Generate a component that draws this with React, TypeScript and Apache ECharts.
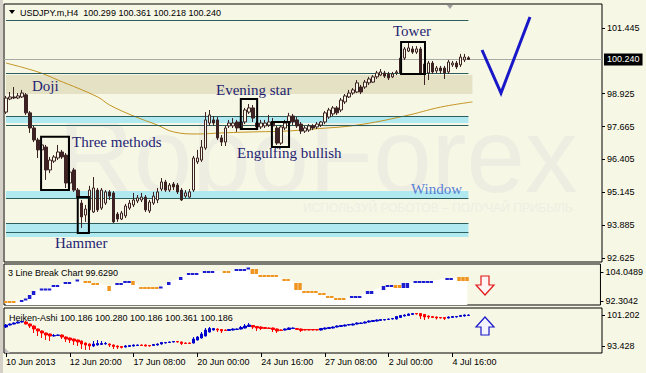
import React, { useEffect, useRef } from "react";
import * as echarts from "echarts";

// ---------- DATA ----------
// main H4 candles: [open, close, low, high]
const ohlc: number[][] = [
  [98.22, 98.76, 98.15, 98.84], [98.72, 98.8, 98.68, 98.99], [98.8, 98.76, 98.72, 99.18], [98.76, 98.84, 98.72, 98.95],
  [98.8, 98.95, 98.76, 99.07], [98.88, 98.19, 98.11, 98.95], [98.19, 97.61, 97.42, 98.26], [97.61, 97.15, 97.07, 97.69],
  [97.15, 96.77, 96.46, 97.23], [96.77, 96.96, 96.65, 97.11], [96.88, 96.0, 95.62, 96.96], [96.0, 96.38, 95.88, 96.5],
  [96.34, 96.5, 96.27, 96.57], [96.46, 96.69, 96.38, 96.96], [96.69, 96.5, 96.42, 96.77], [96.57, 95.5, 95.31, 96.65],
  [95.5, 95.92, 95.42, 96.0], [96.0, 95.23, 95.16, 96.08], [95.23, 94.93, 94.85, 95.31], [94.73, 94.2, 93.78, 94.85],
  [94.27, 94.5, 94.01, 94.66], [94.47, 95.23, 94.39, 95.39], [94.39, 95.31, 94.35, 95.73], [95.23, 94.47, 94.39, 95.31],
  [94.54, 95.23, 94.47, 95.31], [94.73, 95.16, 94.66, 95.23], [95.16, 95.0, 94.85, 95.23], [95.12, 94.01, 93.97, 95.19],
  [94.31, 94.12, 94.01, 94.39], [94.12, 94.35, 94.08, 94.43], [94.24, 94.62, 94.16, 94.7], [94.54, 94.73, 94.47, 94.85],
  [94.66, 94.85, 94.58, 95.12], [94.81, 94.93, 94.73, 95.04], [94.85, 94.96, 94.77, 95.12], [94.96, 94.47, 94.39, 95.04],
  [94.43, 94.77, 94.35, 94.85], [94.73, 95.0, 94.66, 95.16], [94.85, 95.16, 94.73, 95.31], [95.27, 95.54, 95.19, 95.69],
  [95.54, 95.23, 95.16, 95.62], [95.23, 95.42, 95.16, 95.5], [95.46, 95.35, 95.23, 95.54], [95.42, 95.16, 95.08, 95.5],
  [95.23, 94.85, 94.81, 95.31], [95.0, 95.12, 94.93, 95.23], [94.96, 95.16, 94.93, 95.27], [95.23, 96.46, 95.16, 96.54],
  [96.31, 96.46, 96.23, 96.77], [96.38, 96.88, 96.31, 97.15], [96.84, 97.92, 96.77, 98.22], [97.8, 98.11, 97.69, 98.3],
  [97.92, 97.8, 97.69, 98.07], [97.92, 97.23, 97.15, 98.03], [97.23, 97.07, 96.92, 97.34], [97.07, 97.61, 96.92, 97.69],
  [97.69, 97.8, 97.61, 97.92], [97.69, 97.8, 97.61, 97.99], [97.84, 97.61, 97.46, 97.92], [97.61, 97.84, 97.53, 97.99],
  [97.84, 98.3, 97.76, 98.38], [98.22, 98.38, 98.15, 98.53], [98.38, 97.99, 97.84, 98.49], [97.8, 97.65, 97.53, 97.88],
  [97.65, 97.8, 97.57, 97.92], [97.69, 97.8, 97.61, 97.92], [97.72, 97.84, 97.65, 98.11], [97.84, 97.69, 97.53, 97.99],
  [97.61, 97.03, 96.96, 97.69], [97.03, 97.65, 96.96, 97.72], [97.61, 97.8, 97.53, 97.92], [97.8, 98.07, 97.72, 98.19],
  [98.07, 97.84, 97.72, 98.15], [97.92, 97.69, 97.61, 98.03], [97.76, 97.49, 97.38, 97.84], [97.49, 97.61, 97.42, 97.69],
  [97.53, 97.69, 97.46, 97.76], [97.69, 97.61, 97.53, 97.76], [97.65, 97.76, 97.57, 97.84], [97.72, 97.84, 97.65, 97.88],
  [97.84, 98.19, 97.76, 98.26], [98.03, 98.3, 97.96, 98.38], [98.15, 98.38, 98.07, 98.45], [98.38, 98.19, 98.11, 98.45],
  [98.3, 98.68, 98.22, 98.76], [98.61, 98.84, 98.53, 98.91], [98.8, 98.95, 98.76, 99.07], [98.95, 99.07, 98.88, 99.14],
  [98.99, 99.34, 98.95, 99.45], [99.18, 98.99, 98.91, 99.26], [99.18, 99.37, 99.11, 99.45], [99.34, 99.49, 99.26, 99.57],
  [99.37, 99.57, 99.34, 99.64], [99.57, 99.72, 99.49, 99.8], [99.64, 99.76, 99.6, 99.87], [99.72, 99.6, 99.53, 99.8],
  [99.68, 99.53, 99.45, 99.76], [99.57, 99.68, 99.53, 99.76], [99.72, 99.76, 99.64, 99.83], [99.72, 100.29, 99.68, 100.37],
  [100.29, 100.64, 100.22, 100.72], [100.56, 100.68, 100.52, 100.87], [100.64, 100.52, 100.45, 100.75], [100.52, 100.64, 100.45, 100.75],
  [100.64, 99.72, 99.68, 100.72], [100.06, 99.72, 99.26, 100.14], [99.72, 100.1, 99.45, 100.18], [100.1, 99.76, 99.68, 100.18],
  [99.8, 99.91, 99.72, 99.99], [99.91, 99.8, 99.68, 99.99], [99.91, 99.72, 99.49, 99.99], [99.76, 100.14, 99.68, 100.22],
  [100.03, 100.1, 99.95, 100.18], [100.1, 99.95, 99.87, 100.18], [100.03, 100.33, 99.95, 100.45], [100.22, 100.33, 100.14, 100.45],
  [100.299, 100.24, 100.218, 100.361],
];

// moving average: [bar index, value]
const maPoints: number[][] = [
  [0, 100.1], [8, 99.76], [13, 99.45], [23, 98.8], [26, 98.49], [32, 98.07], [38, 97.72], [42, 97.46], [48, 97.38],
  [54, 97.42], [62, 97.46], [70, 97.49], [77, 97.57], [88, 97.72], [100, 98.07], [109, 98.41], [117, 98.61],
];

// Heiken-Ashi: [open, close, low, high]
const haBars: number[][] = [
  [98.2, 98.7, 97.95, 98.95], [98.7, 98.95, 98.58, 99.08], [98.95, 99.2, 98.83, 99.33], [99.2, 99.45, 99.08, 99.58],
  [99.45, 99.58, 99.33, 99.7], [99.45, 98.95, 98.83, 99.7], [98.95, 98.45, 97.95, 99.08], [98.45, 97.7, 96.7, 98.58],
  [97.7, 97.2, 95.95, 97.83], [97.2, 96.7, 95.45, 97.33], [96.7, 96.2, 94.95, 96.83], [96.45, 95.95, 94.7, 96.58],
  [95.95, 96.08, 95.83, 96.45], [96.08, 96.2, 95.95, 96.33], [96.2, 95.7, 95.2, 96.33], [95.7, 95.2, 94.45, 95.83],
  [95.45, 94.95, 94.2, 95.58], [95.2, 94.7, 93.7, 95.33], [94.95, 94.45, 93.45, 95.08], [94.7, 93.95, 92.7, 94.83],
  [94.2, 93.7, 92.45, 94.33], [93.95, 93.45, 92.45, 94.08], [93.45, 93.95, 93.2, 94.7], [93.7, 94.08, 93.58, 94.95],
  [93.83, 94.08, 93.7, 94.7], [93.95, 94.08, 93.83, 94.45], [93.95, 93.7, 93.2, 94.08], [93.7, 93.33, 92.7, 93.83],
  [93.45, 93.2, 92.7, 93.58], [93.33, 93.08, 92.83, 93.45], [93.2, 93.45, 93.08, 93.7], [93.33, 93.58, 93.2, 93.7],
  [93.45, 93.7, 93.33, 93.83], [93.58, 93.7, 93.45, 93.83], [93.7, 93.58, 93.45, 93.83], [93.7, 93.45, 93.33, 93.83],
  [93.58, 93.45, 93.33, 93.7], [93.58, 93.83, 93.45, 93.95], [93.7, 93.95, 93.58, 94.08], [93.95, 94.33, 93.83, 94.45],
  [94.2, 94.33, 94.08, 94.45], [94.33, 94.45, 94.2, 94.58], [94.45, 94.58, 94.33, 94.7], [94.58, 94.45, 94.33, 94.7],
  [94.45, 94.08, 93.7, 94.58], [94.2, 94.08, 93.95, 94.33], [94.2, 94.08, 93.95, 94.33], [94.2, 95.2, 94.08, 95.7],
  [94.95, 95.7, 94.83, 95.95], [95.45, 96.45, 95.33, 96.95], [95.95, 97.45, 95.83, 97.95], [96.95, 97.83, 96.83, 98.2],
  [97.45, 97.83, 97.33, 97.95], [97.7, 97.45, 96.95, 97.83], [97.58, 97.2, 96.7, 97.7], [97.45, 97.33, 97.2, 97.58],
  [97.33, 97.58, 97.2, 97.7], [97.45, 97.7, 97.33, 97.83], [97.58, 97.7, 97.45, 97.83], [97.7, 98.08, 97.58, 98.45],
  [97.95, 98.45, 97.83, 98.95], [98.33, 98.7, 98.2, 99.2], [98.58, 98.2, 97.7, 98.7], [98.33, 97.95, 97.2, 98.45],
  [98.2, 97.83, 97.45, 98.33], [98.08, 97.83, 97.7, 98.2], [97.95, 97.83, 97.7, 98.08], [97.95, 97.58, 96.95, 98.08],
  [97.7, 97.2, 96.7, 97.83], [97.45, 97.33, 97.2, 97.58], [97.45, 97.7, 97.33, 97.83], [97.58, 97.95, 97.45, 98.08],
  [97.83, 97.95, 97.7, 98.08], [97.83, 97.58, 97.45, 97.95], [97.7, 97.33, 96.95, 97.83], [97.58, 97.45, 97.33, 97.7],
  [97.58, 97.45, 97.33, 97.7], [97.58, 97.45, 97.33, 97.7], [97.58, 97.45, 97.33, 97.7], [97.45, 97.83, 97.33, 97.95],
  [97.7, 97.95, 97.58, 98.08], [97.83, 98.08, 97.7, 98.2], [97.95, 98.2, 97.83, 98.33], [98.2, 98.45, 98.08, 98.58],
  [98.33, 98.58, 98.2, 98.7], [98.45, 98.7, 98.33, 98.83], [98.7, 98.83, 98.58, 98.95], [98.7, 98.95, 98.58, 99.08],
  [98.95, 99.2, 98.83, 99.33], [99.08, 99.2, 98.95, 99.33], [99.2, 99.45, 99.08, 99.58], [99.45, 99.7, 99.33, 99.83],
  [99.58, 99.83, 99.45, 99.95], [99.7, 99.95, 99.58, 100.08], [99.83, 100.08, 99.7, 100.2], [99.95, 100.08, 99.83, 100.2],
  [100.08, 100.2, 99.95, 100.33], [100.2, 100.33, 100.08, 100.45], [100.2, 100.83, 100.08, 100.95], [100.58, 101.08, 100.45, 101.2],
  [100.95, 101.2, 100.83, 101.33], [101.08, 101.45, 100.95, 101.58], [101.33, 101.58, 101.2, 101.7], [101.58, 101.45, 101.33, 101.7],
  [101.58, 100.95, 100.2, 101.7], [101.33, 100.7, 99.95, 101.45], [100.95, 100.7, 100.2, 101.08], [100.83, 100.58, 100.45, 100.95],
  [100.7, 100.45, 100.08, 100.83], [100.58, 100.45, 100.33, 100.7], [100.58, 100.33, 99.95, 100.7], [100.45, 100.7, 100.33, 100.83],
  [100.58, 100.83, 100.45, 100.95], [100.7, 100.83, 100.58, 100.95], [100.83, 101.08, 100.7, 101.2], [100.95, 101.2, 100.83, 101.33],
  [101.08, 101.2, 100.95, 101.33],
];

// 3 Line Break bricks: [first bar, last bar, top, bottom, direction (1 up / -1 down)]
const lineBreakBricks: number[][] = [
  [0, 2, 92.3, 91.49, -1], [4, 4, 92.71, 91.9, 1], [5, 5, 93.32, 92.71, 1], [6, 6, 94.73, 93.11, 1],
  [7, 7, 96.35, 94.73, 1], [9, 11, 97.37, 96.56, 1], [12, 13, 98.78, 97.97, 1], [15, 16, 100.0, 99.19, 1],
  [18, 18, 101.01, 100.4, 1], [20, 21, 100.4, 99.8, -1], [22, 23, 99.59, 98.78, -1], [26, 26, 98.38, 96.35, -1],
  [28, 29, 99.59, 98.78, 1], [30, 31, 100.4, 99.8, 1], [32, 32, 100.4, 98.78, -1], [34, 38, 97.97, 97.37, -1],
  [39, 39, 98.18, 97.57, 1], [41, 41, 100.0, 98.78, 1], [44, 44, 102.02, 100.81, 1], [46, 48, 103.64, 102.83, 1],
  [50, 52, 104.45, 103.64, 1], [55, 56, 104.45, 103.85, -1], [58, 60, 105.26, 104.45, 1], [61, 61, 105.87, 105.26, 1],
  [62, 63, 105.26, 103.24, -1], [64, 68, 102.83, 102.02, -1], [70, 71, 101.21, 100.4, -1], [73, 74, 99.59, 96.76, -1],
  [75, 78, 96.35, 95.75, -1], [79, 80, 95.54, 94.73, -1], [81, 82, 94.33, 93.52, -1], [83, 85, 93.52, 92.91, -1],
  [87, 89, 94.33, 93.72, 1], [91, 92, 96.35, 95.14, 1], [95, 95, 98.38, 96.76, 1], [96, 97, 98.78, 98.18, 1],
  [98, 99, 98.78, 97.57, -1], [100, 101, 99.59, 97.57, 1], [103, 107, 100.4, 99.59, 1], [111, 112, 101.62, 100.81, 1],
  [114, 116, 102.02, 100.4, -1],
];

const xTickLabels = ["10 Jun 2013", "12 Jun 20:00", "17 Jun 08:00", "20 Jun 00:00", "24 Jun 16:00", "27 Jun 08:00", "2 Jul 00:00", "4 Jul 16:00"];
const priceTicks = [92.625, 93.885, 95.145, 96.405, 97.665, 98.925, 101.445];
const lastPrice = 100.24;
const lineBreakTicks = [92.3042, 104.0489];
const haTicks = [93.428, 101.202];

// support / resistance zones
const zoneTop = [99.64, 98.07, 95.19, 93.97];
const zoneBottom = [98.91, 97.8, 94.93, 93.43];
const zoneEnd = [117, 116, 116, 116];
const zoneKind = ["beige", "cyan", "cyan", "cyan"];
const levelLines = [101.75, 99.72, 98.07, 97.7, 94.93, 93.97, 93.62];

// pattern boxes: [from bar, to bar, top price, bottom price]
const patternBoxes: number[][] = [
  [8.8, 15.8, 97.27, 95.23],
  [18.0, 20.8, 94.96, 93.58],
  [58.9, 63.0, 98.72, 97.57],
  [66.7, 71.0, 97.84, 96.88],
  [99.1, 105.1, 100.91, 99.68],
];

// ---------- STYLE ----------
const BG = "#f7f7e6";
const UI = '"Liberation Sans", Arial, sans-serif';
const SERIF = '"Liberation Serif", "Times New Roman", serif';
const CANDLE = "#3c2222";
const LINE = "#2c5e5e";
const CYAN = "#b0e9ef";
const BEIGE = "#e4e1c5";
const NAVY = "#1f1f72";
const SLOTS = 150;

export default function App() {
  const ref = useRef<HTMLDivElement>(null);

  useEffect(() => {
    document.body.style.margin = "0";
    const chart = echarts.init(ref.current!, null, { renderer: "svg" });
    const categories = Array.from({ length: SLOTS }, (_, i) => String(i));

    const areaTop: number[][] = [];
    lineBreakBricks.forEach((b) => {
      areaTop.push([b[0], b[2]]);
      areaTop.push([b[1], b[2]]);
    });

    const axisLabelStyle = { color: "#000", fontSize: 9, fontFamily: UI };
    const xBase = {
      type: "category" as const,
      data: categories,
      boundaryGap: true,
      axisLine: { show: false },
      splitLine: { show: false },
    };

    const option: any = {
      animation: false,
      backgroundColor: "transparent",
      grid: [
        { left: 4, top: 4, width: 598, height: 258, show: true, borderColor: "#000", borderWidth: 1, backgroundColor: "transparent" },
        { left: 4, top: 264, width: 598, height: 41, show: true, borderColor: "#000", borderWidth: 1, backgroundColor: "transparent" },
        { left: 4, top: 308, width: 598, height: 45, show: true, borderColor: "#000", borderWidth: 1, backgroundColor: "transparent" },
      ],
      xAxis: [
        { ...xBase, gridIndex: 0, axisTick: { show: false }, axisLabel: { show: false } },
        { ...xBase, gridIndex: 1, axisTick: { show: false }, axisLabel: { show: false } },
        {
          ...xBase,
          gridIndex: 2,
          axisTick: {
            show: true,
            alignWithLabel: true,
            length: 4,
            interval: (i: number) => i % 16 === 0 && i / 16 < xTickLabels.length,
            lineStyle: { color: "#000" },
          },
          axisLabel: {
            ...axisLabelStyle,
            interval: (i: number) => i % 16 === 0 && i / 16 < xTickLabels.length,
            formatter: (_v: string, i: number) => xTickLabels[i / 16] ?? "",
            align: "left",
            margin: 4,
          },
        },
      ],
      yAxis: [
        {
          type: "value", gridIndex: 0, position: "right", min: 92.472, max: 102.364, scale: true,
          splitLine: { show: false }, axisLine: { show: false },
          axisTick: { show: true, length: 3, customValues: priceTicks, lineStyle: { color: "#000" } },
          axisLabel: { ...axisLabelStyle, margin: 5, customValues: priceTicks, formatter: (v: number) => v.toFixed(3) },
        },
        {
          type: "value", gridIndex: 1, position: "right", min: 90.68, max: 107.29, scale: true,
          splitLine: { show: false }, axisLine: { show: false },
          axisTick: { show: true, length: 3, customValues: lineBreakTicks, lineStyle: { color: "#000" } },
          axisLabel: { ...axisLabelStyle, margin: 5, customValues: lineBreakTicks, formatter: (v: number) => v.toFixed(4) },
        },
        {
          type: "value", gridIndex: 2, position: "right", min: 91.7, max: 102.95, scale: true,
          splitLine: { show: false }, axisLine: { show: false },
          axisTick: { show: true, length: 3, customValues: haTicks, lineStyle: { color: "#000" } },
          axisLabel: { ...axisLabelStyle, margin: 5, customValues: haTicks, formatter: (v: number) => v.toFixed(3) },
        },
      ],
      series: [
        {
          name: "zones",
          type: "line",
          xAxisIndex: 0,
          yAxisIndex: 0,
          data: [],
          z: 1,
          silent: true,
          markArea: {
            silent: true,
            data: zoneTop.map((t, k) => [
              { xAxis: 0, yAxis: t, itemStyle: { color: zoneKind[k] === "beige" ? BEIGE : CYAN, opacity: 1 } },
              { xAxis: zoneEnd[k], yAxis: zoneBottom[k] },
            ]),
          },
          markLine: {
            silent: true,
            symbol: ["none", "none"],
            label: { show: false },
            lineStyle: { color: LINE, width: 1, type: "solid" },
            data: [
              ...levelLines.map((v) => [{ xAxis: 0, yAxis: v }, { xAxis: 116, yAxis: v }]),
              {
                yAxis: lastPrice,
                lineStyle: { color: "#a8a8a8", width: 1, type: "solid" },
                label: {
                  show: true,
                  position: "end",
                  distance: 2,
                  formatter: lastPrice.toFixed(3),
                  color: "#fff",
                  backgroundColor: "#000",
                  padding: [2, 3, 1, 3],
                  fontSize: 9,
                  fontFamily: UI,
                },
              },
            ],
          },
        },
        {
          name: "MA",
          type: "line",
          xAxisIndex: 0,
          yAxisIndex: 0,
          data: maPoints,
          smooth: 0.4,
          symbol: "none",
          z: 4,
          lineStyle: { color: "#c39320", width: 1 },
        },
        {
          name: "USDJPY",
          type: "candlestick",
          xAxisIndex: 0,
          yAxisIndex: 0,
          data: ohlc,
          barWidth: 3,
          z: 10,
          itemStyle: { color: BG, color0: CANDLE, borderColor: CANDLE, borderColor0: CANDLE, borderWidth: 1 },
        },
        {
          name: "lbArea",
          type: "line",
          xAxisIndex: 1,
          yAxisIndex: 1,
          data: areaTop,
          symbol: "none",
          z: 1,
          lineStyle: { width: 0, opacity: 0 },
          areaStyle: { color: "#ffffff", opacity: 1, origin: "start" },
        },
        {
          name: "3 Line Break",
          type: "custom",
          xAxisIndex: 1,
          yAxisIndex: 1,
          data: lineBreakBricks,
          z: 5,
          encode: { x: [0, 1], y: [2, 3] },
          renderItem: (_p: any, api: any) => {
            const s = api.value(0), e = api.value(1), top = api.value(2), bot = api.value(3), dir = api.value(4);
            const children: any[] = [];
            for (let k = s; k <= e; k++) {
              const pt = api.coord([k, top]);
              const pb = api.coord([k, bot]);
              children.push({
                type: "rect",
                shape: { x: pt[0] - 2, y: pt[1], width: 3.5, height: Math.max(2, pb[1] - pt[1]) },
                style: { fill: dir > 0 ? "#1c1cd0" : "#ef951f" },
              });
            }
            return { type: "group", children };
          },
        },
        {
          name: "Heiken-Ashi",
          type: "candlestick",
          xAxisIndex: 2,
          yAxisIndex: 2,
          data: haBars,
          barWidth: 3,
          z: 5,
          itemStyle: { color: "#0000cc", color0: "#ff0000", borderColor: "#0000cc", borderColor0: "#ff0000", borderWidth: 1 },
        },
      ],
    };

    chart.setOption(option);

    const c0 = chart.convertToPixel({ gridIndex: 0 } as any, [0, 95]) as number[];
    const c1 = chart.convertToPixel({ gridIndex: 0 } as any, [1, 95]) as number[];
    const bw = c1[0] - c0[0];
    const boxes = patternBoxes.map((b) => {
      const yt = (chart.convertToPixel({ gridIndex: 0 } as any, [0, b[2]]) as number[])[1];
      const yb = (chart.convertToPixel({ gridIndex: 0 } as any, [0, b[3]]) as number[])[1];
      const xl = c0[0] + b[0] * bw;
      const xr = c0[0] + b[1] * bw;
      return {
        type: "rect", z: 30, silent: true,
        shape: { x: xl, y: yt, width: xr - xl, height: yb - yt },
        style: { fill: "none", stroke: "#000", lineWidth: 2 },
      };
    });

    const label = (text: string, x: number, y: number, fill = NAVY) => ({
      type: "text", x, y, z: 30, silent: true,
      style: { text, fill, fontSize: 15, fontFamily: SERIF, verticalAlign: "middle" },
    });
    const uiText = (text: string, x: number, y: number) => ({
      type: "text", x, y, z: 30, silent: true,
      style: { text, fill: "#000", fontSize: 9, fontFamily: UI, verticalAlign: "middle" },
    });

    chart.setOption({
      graphic: [
        { type: "rect", z: 0, silent: true, shape: { x: 0, y: 0, width: 3, height: 373 }, style: { fill: "#d4d0c8" } },
        {
          type: "text", x: 58, y: 155, z: 0, silent: true,
          style: { text: "RoboForex", fill: "#ededE1", fontSize: 105, fontFamily: UI, verticalAlign: "middle" },
        },
        {
          type: "text", x: 303, y: 208, z: 0, silent: true,
          style: { text: "ИСПОЛЬЗУЙ РОБОТОВ – ПОЛУЧАЙ ПРИБЫЛЬ", fill: "#eeeee2", fontSize: 12, fontFamily: UI, verticalAlign: "middle" },
        },
        { type: "polygon", z: 30, silent: true, shape: { points: [[9, 10], [15, 10], [12, 14]] }, style: { fill: "#000" } },
        uiText("USDJPY.m,H4  100.299 100.361 100.218 100.240", 20, 12.5),
        { type: "polygon", z: 30, silent: true, shape: { points: [[447, 5], [453, 5], [450, 9]] }, style: { fill: "#a0a0a0" } },
        label("Doji", 32, 86),
        label("Three methods", 72, 142),
        label("Hammer", 55, 243),
        label("Evening star", 216, 89.5),
        label("Engulfing bullish", 237, 152.5),
        label("Tower", 393, 31),
        label("Window", 411, 189, "#5a7fd6"),
        {
          type: "polyline", z: 30, silent: true,
          shape: { points: [[482, 50], [501, 93], [530, 17]] },
          style: { stroke: "#1818c8", lineWidth: 3, fill: "none" },
        },
        uiText("3 Line Break Chart 99.6290", 8, 273),
        uiText("Heiken-Ashi 100.186 100.280 100.186 100.361 100.186", 9, 318),
        {
          type: "polygon", z: 30, silent: true,
          shape: { points: [[481, 276], [489, 276], [489, 285], [494, 285], [485, 295], [476, 285], [481, 285]] },
          style: { fill: "#fff4f4", stroke: "#e01818", lineWidth: 1.2 },
        },
        {
          type: "polygon", z: 30, silent: true,
          shape: { points: [[485, 317], [494, 327], [489, 327], [489, 335], [481, 335], [481, 327], [476, 327]] },
          style: { fill: "#f4f4ff", stroke: "#1818c8", lineWidth: 1.2 },
        },
        { type: "polygon", z: 30, silent: true, shape: { points: [[5, 353], [5, 348], [10, 353]] }, style: { fill: "#c0c0c0" } },
        ...boxes,
      ],
    });

    return () => chart.dispose();
  }, []);

  return (
    <div
      ref={ref}
      style={{ position: "absolute", left: 0, top: 0, width: 646, height: 373, background: BG }}
    />
  );
}
